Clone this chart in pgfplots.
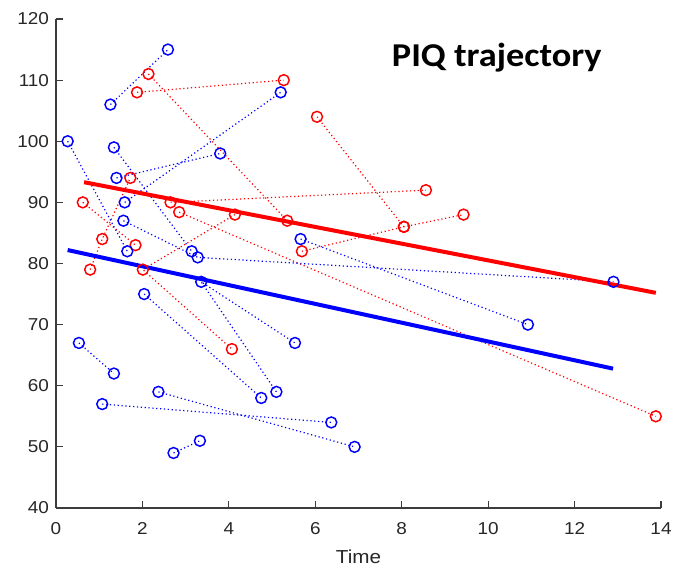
\documentclass[border=0pt]{standalone}
\usepackage{pgfplots}
\pgfplotsset{compat=1.18}
\usepackage{fontspec}
\setmainfont{Liberation Sans}
\newfontfamily\tickfont[FakeStretch=1.1]{Liberation Sans}
\newfontfamily\titlefont[FakeStretch=1.09]{Carlito}
\definecolor{txt}{RGB}{38,38,38}
\definecolor{axl}{RGB}{60,60,60}

\pgfplotsset{
  subj/.style={#1, dotted, line width=0.9pt, mark=o, mark size=4.1pt,
    mark options={solid, line width=1.1pt}},
  trend/.style={#1, line width=3pt, no marks},
}

\begin{document}
\begin{tikzpicture}
\begin{axis}[
    scale only axis,
    width=453.75pt, height=366.75pt,
    xmin=0, xmax=14, ymin=40, ymax=120,
    xtick={0,2,...,14}, ytick={40,50,...,120},
    axis lines*=left,
    axis line style={-, axl, line width=0.9pt},
    tick align=inside,
    major tick length=5.25pt,
    tick style={axl, line width=0.9pt},
    ticklabel style={font=\tickfont\fontsize{12.9pt}{15pt}\selectfont, text=txt},
    xticklabel style={yshift=-7.7pt},
    yticklabel style={xshift=-1.7pt},
    /pgf/number format/assume math mode=true,
    xlabel={Time},
    x label style={at={(axis description cs:0.5,0)}, anchor=center, yshift=-36.75pt,
      font=\tickfont\fontsize{14.1pt}{16pt}\selectfont, text=txt},
    clip=false,
]
% red subjects
\addplot[subj=red] coordinates {(0.62,90) (1.84,83)};
\addplot[subj=red] coordinates {(0.79,79) (1.07,84) (1.72,94)};
\addplot[subj=red] coordinates {(1.875,108) (5.27,110)};
\addplot[subj=red] coordinates {(2.14,111) (5.35,87)};
\addplot[subj=red] coordinates {(2.65,90) (8.56,92)};
\addplot[subj=red] coordinates {(2.85,88.4) (13.88,55)};
\addplot[subj=red] coordinates {(4.14,88) (2.01,79) (4.07,66)};
\addplot[subj=red] coordinates {(6.04,104) (8.05,86)};
\addplot[subj=red] coordinates {(5.69,82) (8.05,86) (9.43,88)};

% blue subjects
\addplot[subj=blue] coordinates {(1.26,106) (2.59,115)};
\addplot[subj=blue] coordinates {(0.27,100) (1.65,82)};
\addplot[subj=blue] coordinates {(1.34,99) (3.14,82)};
\addplot[subj=blue] coordinates {(1.40,94) (3.80,98)};
\addplot[subj=blue] coordinates {(1.59,90) (5.20,108)};
\addplot[subj=blue] coordinates {(1.56,87) (3.28,81) (12.90,77)};
\addplot[subj=blue] coordinates {(5.66,84) (10.92,70)};
\addplot[subj=blue] coordinates {(2.04,75) (4.75,58)};
\addplot[subj=blue] coordinates {(5.10,59) (3.36,77) (5.53,67)};
\addplot[subj=blue] coordinates {(0.53,67) (1.34,62)};
\addplot[subj=blue] coordinates {(2.37,59) (6.91,50)};
\addplot[subj=blue] coordinates {(1.07,57) (6.37,54)};
\addplot[subj=blue] coordinates {(2.72,49) (3.33,51)};

% group trends
\addplot[trend=red] coordinates {(0.65,93.3) (13.88,75.2)};
\addplot[trend=blue] coordinates {(0.27,82.2) (12.89,62.8)};

\node[font=\titlefont\bfseries\fontsize{25pt}{28pt}\selectfont, text=black]
  at (axis cs:10.2,113.7) {PIQ trajectory};
\end{axis}
\pgfresetboundingbox
\path ([xshift=-42pt,yshift=-47.25pt]current axis.south west)
  rectangle ([xshift=10.5pt,yshift=14.25pt]current axis.north east);
\end{tikzpicture}
\end{document}
